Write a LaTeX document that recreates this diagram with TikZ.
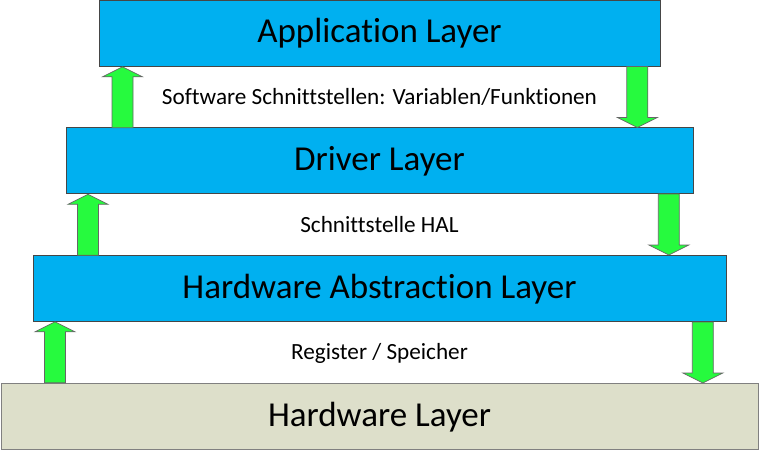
\documentclass[tikz,border=0pt]{standalone}
\usepackage{fontspec}
\setmainfont{Carlito}[Ligatures=NoCommon]
\usetikzlibrary{calc}

\definecolor{layerblue}{RGB}{0,176,240}
\definecolor{hwfill}{RGB}{221,223,202}
\definecolor{arrowgreen}{RGB}{38,250,62}
\definecolor{edgegray}{RGB}{70,70,70}

\tikzset{
  layer/.style={draw=edgegray, line width=0.8pt, fill=layerblue, anchor=north west,
    minimum height=66pt, inner sep=0pt},
  hwlayer/.style={layer, fill=hwfill, draw=gray},
  title/.style={font=\fontsize{35}{42}\selectfont, anchor=base},
  iface/.style={font=\fontsize{23.2}{28}\selectfont, anchor=base},
  blockarrow/.style={draw=gray!80!black, line width=0.7pt, fill=arrowgreen, line join=miter},
  pics/uparrow/.style={code={
    \draw[blockarrow] (0,0) -- (20,10) -- (10.5,10) -- (10.5,61) -- (-10.5,61)
      -- (-10.5,10) -- (-20,10) -- cycle;}},
  pics/downarrow/.style={code={
    \draw[blockarrow] (0,0) -- (20,-10) -- (10.5,-10) -- (10.5,-61) -- (-10.5,-61)
      -- (-10.5,-10) -- (-20,-10) -- cycle;}},
}

\begin{document}
\begin{tikzpicture}[x=1pt, y=-1pt]
  \useasboundingbox (0,0) rectangle (759,454);

  % the four layers of the stack
  \node[layer, minimum width=561pt] (app) at (99,0) {};
  \node[layer, minimum width=627pt] (drv) at (66,127.5) {};
  \node[layer, minimum width=693pt] (hal) at (33,255) {};
  \node[hwlayer, minimum width=757pt] (hw) at (0.5,383) {};

  % layer names
  \node[title] (appname) at (379.5,43) {Application Layer};
  \node[title] (drvname) at (379.5,171) {Driver Layer};
  \node[title] (halname) at (379.5,298) {Hardware Abstraction Layer};
  \node[title] (hwname)  at (379.5,426) {Hardware Layer};

  % interfaces between neighbouring layers
  \node[iface] (ifapp) at (379.5,105) {Software Schnittstellen: Variablen/Funktionen};
  \node[iface] (ifhal) at (379.5,232) {Schnittstelle HAL};
  \node[iface] (ifreg) at (379.5,359) {Register / Speicher};

  % data flow up and down the stack
  \pic at ($(app.south west)+(23.5,0)$) {uparrow};
  \pic at ($(drv.south west)+(22,0)$) {uparrow};
  \pic at ($(hal.south west)+(22,0)$) {uparrow};
  \pic at ($(drv.north east)+(-56.5,0)$) {downarrow};
  \pic at ($(hal.north east)+(-58,0)$) {downarrow};
  \pic at ($(hw.north east)+(-55.5,0)$) {downarrow};
\end{tikzpicture}
\end{document}
